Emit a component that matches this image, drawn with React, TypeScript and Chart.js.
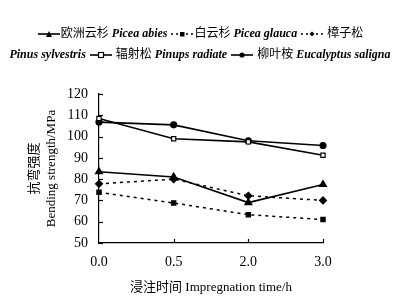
import React, { useEffect, useRef } from "react";
import { Chart, registerables } from "chart.js";

Chart.register(...registerables);

const categories = ["0.0", "0.5", "2.0", "3.0"];
const piceaAbies = [83.5, 81, 69, 77.5];
const piceaGlauca = [73.8, 68.8, 63.3, 61];
const pinusSylvestris = [77.8, 80, 72.2, 70];
const pinusRadiata = [108.5, 99, 97.5, 91.2];
const eucalyptusSaligna = [106.8, 105.5, 98, 95.8];
const yTitle = ["抗弯强度", "Bending strength/MPa"];
const xTitle = "浸注时间 Impregnation time/h";

const FONT = "'Liberation Serif', 'Noto Sans CJK SC', serif";

const innerTicks = {
  id: "innerTicks",
  afterDraw(chart: any) {
    const { ctx, chartArea, scales } = chart;
    ctx.save();
    ctx.strokeStyle = "#000";
    ctx.lineWidth = 1.2;
    const y = scales.y;
    y.ticks.forEach((t: any) => {
      const py = Math.round(y.getPixelForValue(t.value)) + 0.5;
      ctx.beginPath();
      ctx.moveTo(chartArea.left, py);
      ctx.lineTo(chartArea.left + 4, py);
      ctx.stroke();
    });
    const x = scales.x;
    x.ticks.forEach((_t: any, i: number) => {
      if (i === 0) return;
      const px = Math.round(x.getPixelForTick(i)) + 0.5;
      ctx.beginPath();
      ctx.moveTo(px, chartArea.bottom);
      ctx.lineTo(px, chartArea.bottom - 4);
      ctx.stroke();
    });
    ctx.restore();
  },
};

function Icon({ dash, marker }: { dash: boolean; marker: string }) {
  const m =
    marker === "tri" ? (
      <polygon points="11,2 14,8 8,8" fill="#000" />
    ) : marker === "sq" ? (
      <rect x="9" y="3" width="4.5" height="4.5" fill="#000" />
    ) : marker === "dia" ? (
      <polygon points="11,2.5 13.5,5 11,7.5 8.5,5" fill="#000" />
    ) : marker === "osq" ? (
      <rect x="8.5" y="2.5" width="5" height="5" fill="#fff" stroke="#000" strokeWidth="1.2" />
    ) : (
      <circle cx="11" cy="5" r="2.6" fill="#000" />
    );
  return (
    <svg width="22" height="10" style={{ verticalAlign: "middle", margin: "0 1px" }}>
      <line
        x1="0"
        y1="5"
        x2="22"
        y2="5"
        stroke="#000"
        strokeWidth={dash ? 1.4 : 1.6}
        strokeDasharray={dash ? "2,3" : undefined}
      />
      {m}
    </svg>
  );
}

const it: React.CSSProperties = { fontStyle: "italic", fontWeight: "bold" };

export default function App() {
  const ref = useRef<HTMLCanvasElement>(null);
  useEffect(() => {
    if (!ref.current) return;
    const solid = (data: number[], style: string, r: number, fill = "#000") => ({
      data,
      borderColor: "#000",
      backgroundColor: fill,
      pointBackgroundColor: fill,
      pointBorderColor: "#000",
      pointBorderWidth: 1.2,
      borderWidth: 1.6,
      pointStyle: style,
      pointRadius: r,
      clip: false as any,
    });
    const chart = new Chart(ref.current, {
      type: "line",
      data: {
        labels: categories,
        datasets: [
          { label: "欧洲云杉 Picea abies", ...solid(piceaAbies, "triangle", 4) },
          { label: "白云杉 Picea glauca", ...solid(piceaGlauca, "rect", 3), borderDash: [3, 4], borderWidth: 1.5 },
          { label: "樟子松 Pinus sylvestris", ...solid(pinusSylvestris, "rectRot", 3.5), borderDash: [3, 4], borderWidth: 1.5 },
          { label: "辐射松 Pinups radiate", ...solid(pinusRadiata, "rect", 3, "#fff") },
          { label: "柳叶桉 Eucalyptus saligna", ...solid(eucalyptusSaligna, "circle", 3) },
        ],
      },
      options: {
        animation: false,
        responsive: false,
        layout: { padding: { top: 94, right: 77, left: 0, bottom: 0 } },
        plugins: { legend: { display: false }, tooltip: { enabled: false } },
        scales: {
          x: {
            type: "category",
            offset: false,
            grid: { display: false, drawTicks: false },
            border: { display: true, color: "#000", width: 1.2 },
            ticks: { color: "#000", font: { family: FONT, size: 14 }, padding: 11, maxRotation: 0 },
            title: { display: true, text: xTitle, color: "#000", font: { family: FONT, size: 13 }, padding: { top: 0, bottom: 3 } },
            afterFit: (s: any) => {
              s.height = 55;
            },
          },
          y: {
            min: 50,
            max: 120,
            grid: { display: false, drawTicks: false },
            border: { display: true, color: "#000", width: 1.2 },
            ticks: { stepSize: 10, color: "#000", font: { family: FONT, size: 14 }, padding: 11 },
            title: { display: true, text: yTitle, color: "#000", font: { family: FONT, size: 13, lineHeight: 1.31 }, padding: { top: 26.5, bottom: 0 } },
            afterFit: (s: any) => {
              s.width = 99;
            },
          },
        },
      },
      plugins: [innerTicks],
    });
    return () => chart.destroy();
  }, []);
  return (
    <div style={{ position: "fixed", left: 0, top: 0, width: 400, height: 298, background: "#fff" }}>
      <canvas ref={ref} width={400} height={298} style={{ position: "absolute", left: 0, top: 0 }} />
      <div
        style={{
          position: "absolute",
          left: 0,
          top: 23,
          width: 400,
          textAlign: "center",
          fontFamily: FONT,
          fontSize: 12,
          lineHeight: "21px",
          color: "#000",
          whiteSpace: "nowrap",
        }}
      >
        <div>
          <Icon dash={false} marker="tri" />欧洲云杉 <span style={it}>Picea abies</span>{" "}
          <Icon dash={true} marker="sq" />白云杉 <span style={it}>Picea glauca</span>{" "}
          <Icon dash={true} marker="dia" /> 樟子松
        </div>
        <div>
          <span style={it}>Pinus sylvestris</span> <Icon dash={false} marker="osq" /> 辐射松{" "}
          <span style={it}>Pinups radiate</span> <Icon dash={false} marker="circ" /> 柳叶桉{" "}
          <span style={it}>Eucalyptus saligna</span>
        </div>
      </div>
    </div>
  );
}
